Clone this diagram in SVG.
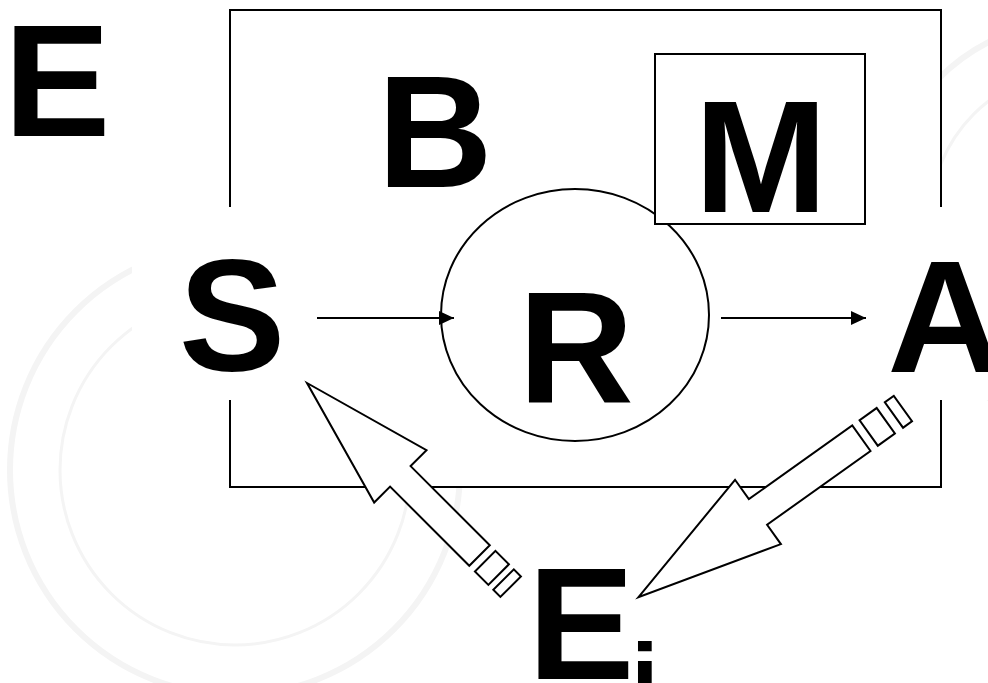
<svg xmlns="http://www.w3.org/2000/svg" width="988" height="683" viewBox="0 0 988 683">
  <defs>
    <marker id="tri" markerUnits="userSpaceOnUse" markerWidth="16" markerHeight="16" viewBox="0 -8 16 16" refX="15" refY="0" orient="auto">
      <path d="M0,-7 L15,0 L0,7 Z" fill="#000"/>
    </marker>
  </defs>
  <style>
    .lbl { font-family: "Liberation Sans", Arial, sans-serif; font-weight: bold; fill: #000; }
    .big { font-size: 160px; text-anchor: middle; }
    .sub { font-size: 100px; text-anchor: start; }
    .outline { fill: #fff; stroke: #000; stroke-width: 2; }
    .conn { stroke: #000; stroke-width: 2; fill: none; }
    .hollow { fill: #fff; stroke: #000; stroke-width: 2; stroke-linejoin: miter; }
    .wm { fill: none; stroke: #f4f4f4; }
  </style>
  <rect x="0" y="0" width="988" height="683" fill="#fff"/>
  <g id="watermark">
    <circle class="wm" cx="235" cy="470" r="225" stroke-width="6"/>
    <circle class="wm" cx="235" cy="470" r="175" stroke-width="3"/>
    <circle class="wm" cx="1080" cy="220" r="200" stroke-width="6"/>
    <circle class="wm" cx="1080" cy="220" r="150" stroke-width="3"/>
  </g>
  <g id="B">
    <rect class="outline" x="230" y="10" width="711" height="477"/>
    <text class="lbl big" x="435" y="187">B</text>
  </g>
  <rect id="band" x="132" y="207" width="856" height="193" fill="#fff"/>
  <g id="R">
    <ellipse class="outline" cx="575" cy="315" rx="134" ry="126"/>
    <text class="lbl big" x="576" y="403">R</text>
  </g>
  <g id="M">
    <rect class="outline" x="655" y="54" width="210" height="170"/>
    <text class="lbl big" x="761" y="212">M</text>
  </g>
  <g id="E">
    <text class="lbl big" x="57" y="136">E</text>
  </g>
  <g id="S">
    <text class="lbl big" x="232" y="370">S</text>
  </g>
  <g id="A">
    <text class="lbl big" x="945" y="372">A</text>
  </g>
  <g id="Ei">
    <text class="lbl big" x="581" y="679">E</text>
    <text class="lbl sub" x="631" y="714">i</text>
  </g>
  <g id="connectors">
    <line class="conn" x1="317" y1="318" x2="454" y2="318" marker-end="url(#tri)"/>
    <line class="conn" x1="721" y1="318" x2="866" y2="318" marker-end="url(#tri)"/>
    <g transform="translate(307,383) rotate(45)">
      <path class="hollow" d="M0,0 L132,-37 L132,-14.5 L244,-14.5 L244,14.5 L132,14.5 L132,37 Z"/>
      <rect class="hollow" x="252" y="-14.5" width="19" height="29"/>
      <rect class="hollow" x="278" y="-14.5" width="10" height="29"/>
    </g>
    <g transform="translate(638.3,597.3) rotate(-35.5)">
      <path class="hollow" d="M0,0 L147,-39.5 L147,-15.7 L274,-15.7 L274,15.7 L147,15.7 L147,39.5 Z"/>
      <rect class="hollow" x="283" y="-15.7" width="21" height="31.4"/>
      <rect class="hollow" x="314" y="-15.7" width="11" height="31.4"/>
    </g>
  </g>
</svg>
